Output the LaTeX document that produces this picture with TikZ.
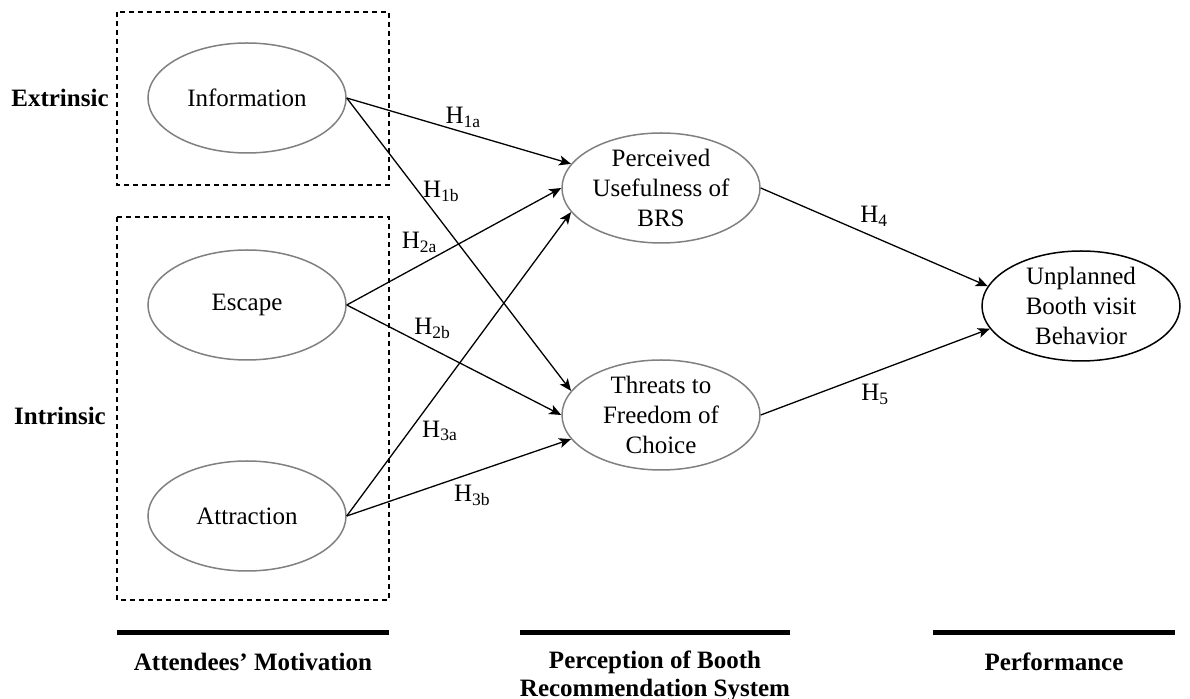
\documentclass[tikz,border=0pt]{standalone}
\usepackage{fontspec}
\setmainfont{Liberation Serif}
\usetikzlibrary{
  arrows.meta,
  positioning,       % Relative placement
  shapes.geometric,  % Shape "ellipse"
}
\tikzset{
  font=\fontsize{12.5}{15}\selectfont,
  >={Stealth[length=6pt,width=5pt,inset=1.5pt]},
  construct/.style={
    draw=black!50,
    line width=0.75pt,
    ellipse,
    minimum width=99pt,
    minimum height=55pt,
    inner sep=0pt,
    align=center
  },
  outcome/.style={
    construct,
    draw=black
  },
  frame/.style={
    draw,
    line width=0.6pt,
    dash pattern=on 2.5pt off 2pt
  },
  bar/.style={
    line width=2.5pt
  },
  hyp/.style={
    inner sep=2pt
  },
  heading/.style={
    font=\fontsize{12.5}{14}\selectfont\bfseries,
    align=center
  },
  link/.style={
    ->,
    line width=0.65pt
  }
}

\begin{document}
\begin{tikzpicture}[x=0.5pt,y=-0.5pt]
\useasboundingbox (0,0) rectangle (1190,699);
% motivation groups
\draw[frame] (117,12)  rectangle (389,185);
\draw[frame] (117,217) rectangle (389,600);
\node[heading] (extr) at (60,98)  {Extrinsic};
\node[heading] (intr) at (60,416) {Intrinsic};
% constructs
\node[construct] (info)    at (247,98)   {Information};
\node[construct] (escape)  at (247,305)  {Escape};
\node[construct] (attract) at (247,516)  {Attraction};
\node[construct] (useful)  at (661,188)  {Perceived\\Usefulness of\\BRS};
\node[construct] (threat)  at (661,415)  {Threats to\\Freedom of\\Choice};
\node[outcome]   (visit)   at (1081,306) {Unplanned\\Booth visit\\Behavior};
% hypotheses
\path[link]
  (info.east)    edge node[hyp,pos=0.52,above]{H\textsubscript{1a}}       (useful.165)
  (info.east)    edge node[hyp,pos=0.32,right]{H\textsubscript{1b}}       (threat.165)
  (escape.east)  edge node[hyp,pos=0.34,above=4pt]{H\textsubscript{2a}}   (useful.west)
  (escape.east)  edge node[hyp,pos=0.40,above=3pt]{H\textsubscript{2b}}   (threat.west)
  (attract.east) edge node[hyp,pos=0.28,right=4pt]{H\textsubscript{3a}}   (useful.195)
  (attract.east) edge node[hyp,pos=0.56,below=4pt]{H\textsubscript{3b}}   (threat.195)
  (useful.east)  edge node[hyp,pos=0.50,above=3pt]{H\textsubscript{4}}    (visit.168)
  (threat.east)  edge node[hyp,pos=0.50,below=4pt]{H\textsubscript{5}}    (visit.194);
% stages
\draw[bar] (117,633) -- (389,633);
\draw[bar] (520,633) -- (790,633);
\draw[bar] (933,633) -- (1175,633);
\node[heading] (motiv)   at (253,662)  {Attendees’ Motivation};
\node[heading] (percept) at (655,676)  {Perception of Booth\\Recommendation System};
\node[heading] (perf)    at (1054,662) {Performance};
\end{tikzpicture}
\end{document}
